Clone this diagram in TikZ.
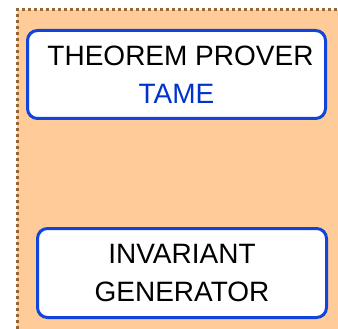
\documentclass[tikz,border=0pt]{standalone}
\usepackage{fontspec}
\setmainfont{Liberation Sans}
\definecolor{cpeach}{RGB}{255,204,153}
\definecolor{cbrown}{RGB}{153,102,51}
\definecolor{cblue}{RGB}{17,68,221}
\definecolor{ctext}{RGB}{0,51,204}
\tikzset{
  toolbox/.style={draw=cblue,line width=3pt,fill=white,rounded corners=10pt,
    align=center,inner sep=0pt,font=\fontsize{28}{37.5}\selectfont},
  frameline/.style={cbrown,line width=3pt,dash pattern=on 3pt off 3pt}
}

\begin{document}
\begin{tikzpicture}[x=1pt,y=-1pt]
    \useasboundingbox (0,0) rectangle (338,329);
    % shaded region
    \fill[cpeach] (17,10) rectangle (338,329);
    \draw[frameline] (17,329) -- (17,10) -- (338,10);
    \node[toolbox,minimum width=298pt,minimum height=88pt] (prover) at (176.5,74.5)
      {\hspace*{8pt}THEOREM PROVER\\\textcolor{ctext}{TAME}};
    \node[toolbox,minimum width=289pt,minimum height=89pt] (invgen) at (182,273)
      {INVARIANT\\GENERATOR};
\end{tikzpicture}
\end{document}
